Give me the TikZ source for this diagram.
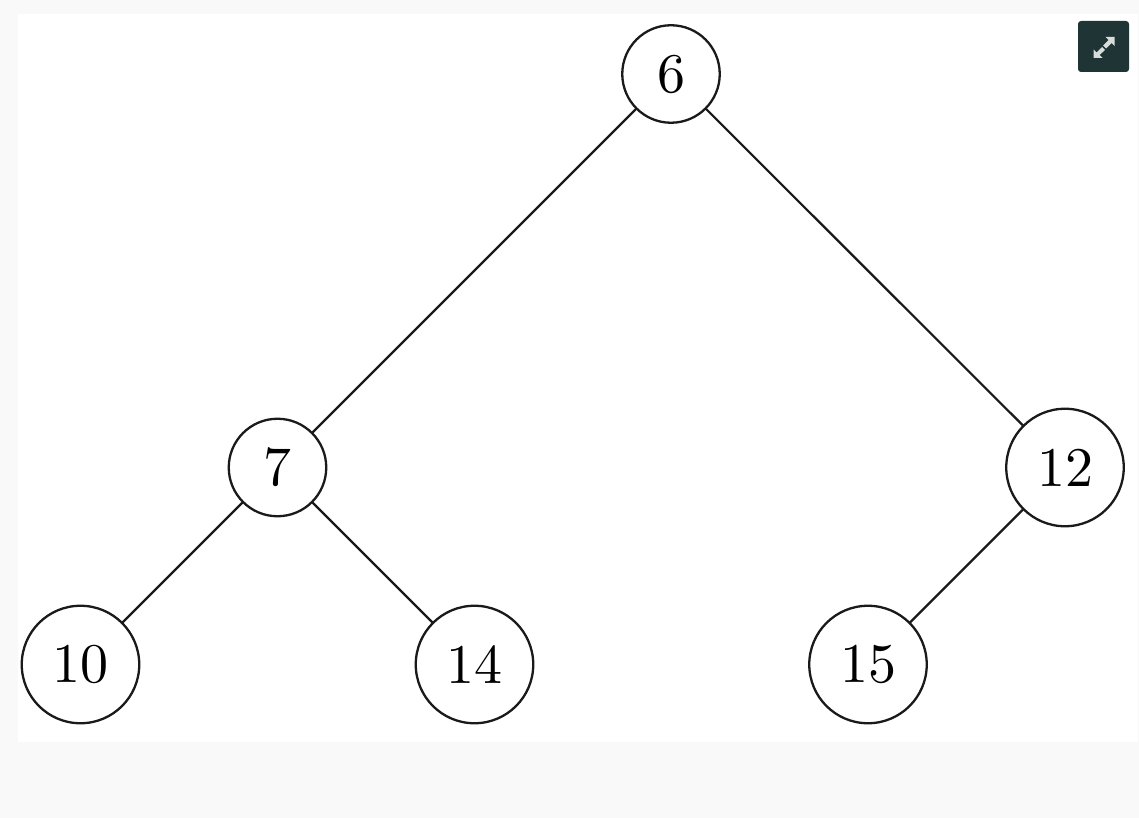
\documentclass[tikz,border=0pt]{standalone}
\font\numfont="[lmroman10-regular.otf]" at 56pt
\definecolor{pagebg}{HTML}{F9F9F9}
\definecolor{btn}{HTML}{1F3535}
\definecolor{ico}{HTML}{D8DCDB}
\definecolor{ink}{HTML}{1A1A1A}
\tikzset{
  small/.style={circle,draw=ink,line width=2.3pt,fill=white,minimum size=97.5pt,inner sep=0pt,outer sep=0pt,text=black,font=\numfont},
  large/.style={small,minimum size=117.5pt},
  edge/.style={draw=ink,line width=2.2pt}
}
\begin{document}
\begin{tikzpicture}[x=1pt,y=-1pt]
\useasboundingbox (0,0) rectangle (1139,818);
\fill[pagebg] (0,0) rectangle (1139,818);
\fill[white] (18,14.5) rectangle (1138,742);
\node[small] (n6) at (671,74) {6};
\node[small] (n7) at (277.5,467.5) {7};
\node[large] (n12) at (1065,467.5) {12};
\node[large] (n10) at (80.5,664.5) {10};
\node[large] (n14) at (474.5,664.5) {14};
\node[large] (n15) at (868,664.5) {15};
\draw[edge] (n6) -- (n7);
\draw[edge] (n6) -- (n12);
\draw[edge] (n7) -- (n10);
\draw[edge] (n7) -- (n14);
\draw[edge] (n12) -- (n15);
\fill[btn,rounded corners=3pt] (1078,21) rectangle (1129,72);
\fill[ico] (1114.5,37) -- (1114.5,46) -- (1111.5,43) -- (1106,48.5) -- (1103,45.5) -- (1108.5,40) -- (1105.5,37) -- cycle;
\fill[ico] (1093.5,58) -- (1093.5,49.5) -- (1096.5,52.5) -- (1102,47) -- (1105,50) -- (1099.5,55) -- (1102.5,58) -- cycle;
\end{tikzpicture}
\end{document}
